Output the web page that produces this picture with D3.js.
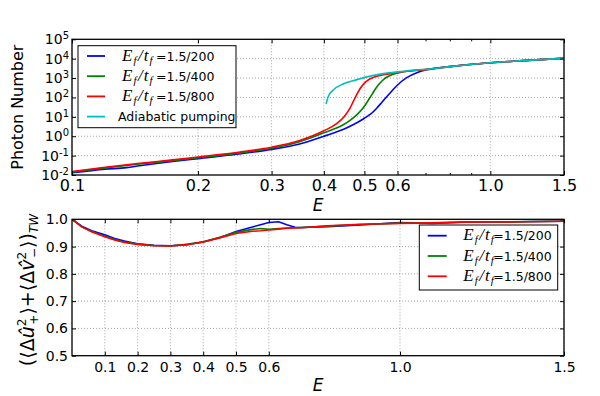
<!DOCTYPE html>
<html>
<head>
<meta charset="utf-8">
<script src="https://cdn.jsdelivr.net/npm/d3@7"></script>
<style>
  body { margin: 0; background: #fff; }
  text { font-family: "DejaVu Sans", sans-serif; }
</style>
</head>
<body>
<div id="chart"></div>
<script>
const width = 600;
const height = 396;

// ---- top panel: photon number (log-log) ----
const topTicksX = [0.1, 0.2, 0.3, 0.4, 0.5, 0.6, 1.0, 1.5];
const topMinorX = [0.7, 0.8, 0.9];
const topExpY = [-2, -1, 0, 1, 2, 3, 4, 5];

const eBlueTop = [0.1, 0.12, 0.135, 0.145, 0.174, 0.2, 0.25, 0.3, 0.35, 0.4, 0.422, 0.446, 0.471, 0.5, 0.521, 0.535, 0.55, 0.566, 0.583, 0.6, 0.631, 0.667, 0.705, 0.8, 1.0, 1.2, 1.5];
const nBlueTop = [0.013, 0.02, 0.024, 0.03, 0.05, 0.07, 0.12, 0.21, 0.4, 1.0, 1.48, 2.3, 4.0, 8.5, 15.8, 28, 55, 112, 230, 440, 1050, 1900, 2700, 3900, 6200, 7900, 10500];

const eGreenTop = [0.1, 0.12, 0.145, 0.174, 0.2, 0.25, 0.3, 0.35, 0.4, 0.446, 0.462, 0.48, 0.5, 0.51, 0.521, 0.532, 0.545, 0.557, 0.571, 0.6, 0.655, 0.705, 0.8, 1.0, 1.2, 1.5];
const nGreenTop = [0.014, 0.023, 0.037, 0.055, 0.078, 0.135, 0.24, 0.52, 1.5, 4, 6.6, 13, 35, 68, 140, 290, 560, 890, 1230, 1800, 2450, 2750, 3900, 6200, 7900, 10500];

const eRedTop = [0.1, 0.12, 0.145, 0.174, 0.2, 0.25, 0.3, 0.35, 0.4, 0.43, 0.446, 0.462, 0.471, 0.48, 0.488, 0.5, 0.515, 0.53, 0.555, 0.6, 0.705, 0.8, 1.0, 1.2, 1.5];
const nRedTop = [0.015, 0.025, 0.04, 0.06, 0.085, 0.15, 0.27, 0.6, 1.9, 4.6, 9.5, 28, 66, 148, 280, 550, 890, 1170, 1480, 1950, 2800, 3900, 6200, 7900, 10500];

const eCyanTop = [0.405, 0.41, 0.422, 0.446, 0.48, 0.507, 0.555, 0.608, 0.667, 0.705, 0.8, 1.0, 1.2, 1.5];
const nCyanTop = [45, 115, 250, 510, 830, 1150, 1700, 2150, 2650, 2850, 3900, 6200, 7900, 10500];

// ---- bottom panel: variance sum ----
const botTicksX = [0.1, 0.2, 0.3, 0.4, 0.5, 0.6, 1.0, 1.5];
const botTicksY = [0.5, 0.6, 0.7, 0.8, 0.9, 1.0];

const eBot = [0, 0.03, 0.06, 0.1, 0.13, 0.16, 0.2, 0.25, 0.3, 0.35, 0.4, 0.45, 0.5, 0.55, 0.575, 0.6, 0.63, 0.655, 0.68, 0.7, 0.78, 0.88, 1.0, 1.1, 1.2, 1.3, 1.4, 1.5];
const vBlueBot = [1.0, 0.975, 0.958, 0.943, 0.93, 0.92, 0.91, 0.905, 0.903, 0.907, 0.917, 0.932, 0.955, 0.972, 0.98, 0.988, 0.991, 0.98, 0.971, 0.97, 0.973, 0.979, 0.988, 0.985, 0.99, 0.989, 0.992, 0.993];
const vGreenBot = [1.0, 0.972, 0.955, 0.938, 0.926, 0.917, 0.909, 0.904, 0.902, 0.908, 0.918, 0.934, 0.952, 0.963, 0.966, 0.963, 0.966, 0.968, 0.969, 0.97, 0.975, 0.981, 0.986, 0.987, 0.99, 0.99, 0.992, 0.993];
const vRedBot = [1.0, 0.972, 0.954, 0.936, 0.924, 0.915, 0.908, 0.903, 0.902, 0.907, 0.917, 0.932, 0.948, 0.956, 0.958, 0.961, 0.964, 0.967, 0.968, 0.969, 0.976, 0.982, 0.985, 0.987, 0.989, 0.99, 0.991, 0.993];

const rateLabels = ["=1.5/200", "=1.5/400", "=1.5/800"];
const colors = ["#0000ff", "#008000", "#ff0000", "#00bfbf"];

const svg = d3.select("#chart")
  .append("svg")
  .attr("width", width)
  .attr("height", height);

const left = 72, right = 564;
const topY0 = 39.3, topY1 = 175;
const botY0 = 219.3, botY1 = 355.7;

const xTop = d3.scaleLog().domain([0.1, 1.5]).range([left, right]);
const yTop = d3.scaleLog().domain([1e-2, 1e5]).range([topY1, topY0]);
const xBot = d3.scaleLinear().domain([0, 1.5]).range([left, right]);
const yBot = d3.scaleLinear().domain([0.5, 1.0]).range([botY1, botY0]);

const defs = svg.append("defs");
defs.append("clipPath").attr("id", "clipTop")
  .append("rect").attr("x", left).attr("y", topY0).attr("width", right - left).attr("height", topY1 - topY0);
defs.append("clipPath").attr("id", "clipBot")
  .append("rect").attr("x", left).attr("y", botY0).attr("width", right - left).attr("height", botY1 - botY0);

function grid(xs, ys, xScale, yScale, y0, y1) {
  const g = svg.append("g")
    .attr("stroke", "#000")
    .attr("stroke-opacity", 0.45)
    .attr("stroke-width", 0.8)
    .attr("stroke-dasharray", "1,2");
  g.selectAll(".gx").data(xs).enter().append("line")
    .attr("x1", d => xScale(d)).attr("x2", d => xScale(d))
    .attr("y1", y0).attr("y2", y1);
  g.selectAll(".gy").data(ys).enter().append("line")
    .attr("x1", left).attr("x2", right)
    .attr("y1", d => yScale(d)).attr("y2", d => yScale(d));
}

grid(topTicksX, topExpY.slice(1, -1).map(e => Math.pow(10, e)), xTop, yTop, topY0, topY1);
grid(botTicksX, botTicksY.slice(1, -1), xBot, yBot, botY0, botY1);

// curves
function drawCurve(xs, ys, xScale, yScale, color, clip) {
  const line = d3.line()
    .x(d => xScale(d[0]))
    .y(d => yScale(d[1]))
    .curve(d3.curveMonotoneX);
  svg.append("path")
    .datum(xs.map((x, i) => [x, ys[i]]))
    .attr("d", line)
    .attr("fill", "none")
    .attr("stroke", color)
    .attr("stroke-width", 1.6)
    .attr("clip-path", clip);
}

drawCurve(eBlueTop, nBlueTop, xTop, yTop, colors[0], "url(#clipTop)");
drawCurve(eGreenTop, nGreenTop, xTop, yTop, colors[1], "url(#clipTop)");
drawCurve(eRedTop, nRedTop, xTop, yTop, colors[2], "url(#clipTop)");
drawCurve(eCyanTop, nCyanTop, xTop, yTop, colors[3], "url(#clipTop)");

function drawNoisy(xs, ys, color) {
  const line = d3.line().x(d => xBot(d[0])).y(d => yBot(d[1]));
  svg.append("path")
    .datum(xs.map((x, i) => [x, ys[i]]))
    .attr("d", line)
    .attr("fill", "none")
    .attr("stroke", color)
    .attr("stroke-width", 1.6)
    .attr("clip-path", "url(#clipBot)");
}
drawNoisy(eBot, vBlueBot, colors[0]);
drawNoisy(eBot, vGreenBot, colors[1]);
drawNoisy(eBot, vRedBot, colors[2]);

// axes (inward ticks on all sides)
function styleAxis(g, fontSize) {
  g.select(".domain").remove();
  g.selectAll(".tick line").attr("stroke", "#000").attr("stroke-width", 1);
  g.selectAll(".tick text").attr("fill", "#000").attr("font-size", fontSize + "px")
    .attr("font-family", "DejaVu Sans");
}

// top panel
const gxTop = svg.append("g").attr("transform", `translate(0,${topY1})`)
  .call(d3.axisBottom(xTop).tickValues(topTicksX).tickFormat(d3.format(".1f")).tickSize(-4).tickPadding(5));
styleAxis(gxTop, 16);
const gxTop2 = svg.append("g").attr("transform", `translate(0,${topY0})`)
  .call(d3.axisTop(xTop).tickValues(topTicksX).tickFormat("").tickSize(-4));
styleAxis(gxTop2, 10);
svg.append("g").attr("transform", `translate(0,${topY1})`)
  .call(d3.axisBottom(xTop).tickValues(topMinorX).tickFormat("").tickSize(-2))
  .call(g => styleAxis(g, 10));
svg.append("g").attr("transform", `translate(0,${topY0})`)
  .call(d3.axisTop(xTop).tickValues(topMinorX).tickFormat("").tickSize(-2))
  .call(g => styleAxis(g, 10));

const gyTop = svg.append("g").attr("transform", `translate(${left},0)`)
  .call(d3.axisLeft(yTop).tickValues(topExpY.map(e => Math.pow(10, e))).tickFormat("").tickSize(-4).tickPadding(3));
styleAxis(gyTop, 14);
gyTop.selectAll(".tick text").each(function(d) {
  const t = d3.select(this);
  t.append("tspan").text("10");
  t.append("tspan").attr("dy", "-0.5em").attr("font-size", "10px").text(Math.round(Math.log10(d)));
});
const gyTop2 = svg.append("g").attr("transform", `translate(${right},0)`)
  .call(d3.axisRight(yTop).tickValues(topExpY.map(e => Math.pow(10, e))).tickFormat("").tickSize(-4));
styleAxis(gyTop2, 10);

// bottom panel
const gxBot = svg.append("g").attr("transform", `translate(0,${botY1})`)
  .call(d3.axisBottom(xBot).tickValues(botTicksX).tickFormat(d3.format(".1f")).tickSize(-4).tickPadding(6));
styleAxis(gxBot, 14);
const gxBot2 = svg.append("g").attr("transform", `translate(0,${botY0})`)
  .call(d3.axisTop(xBot).tickValues(botTicksX).tickFormat("").tickSize(-4));
styleAxis(gxBot2, 10);
const gyBot = svg.append("g").attr("transform", `translate(${left},0)`)
  .call(d3.axisLeft(yBot).tickValues(botTicksY).tickFormat(d3.format(".1f")).tickSize(-4).tickPadding(4));
styleAxis(gyBot, 14);
const gyBot2 = svg.append("g").attr("transform", `translate(${right},0)`)
  .call(d3.axisRight(yBot).tickValues(botTicksY).tickFormat("").tickSize(-4));
styleAxis(gyBot2, 10);

// frames
[[topY0, topY1], [botY0, botY1]].forEach(([y0, y1]) => {
  svg.append("rect")
    .attr("x", left).attr("y", y0)
    .attr("width", right - left).attr("height", y1 - y0)
    .attr("fill", "none").attr("stroke", "#000").attr("stroke-width", 1.3);
});

// axis labels
svg.append("text")
  .attr("transform", `translate(23,${(topY0 + topY1) / 2}) rotate(-90)`)
  .attr("text-anchor", "middle")
  .attr("font-size", "16px")
  .text("Photon Number");

[211, 391].forEach(y => {
  svg.append("text")
    .attr("x", (left + right) / 2).attr("y", y)
    .attr("text-anchor", "middle")
    .attr("font-family", "Liberation Serif")
    .attr("font-style", "italic")
    .attr("font-size", "17px")
    .text("E");
});

const yl = svg.append("text")
  .attr("transform", `translate(34,290) rotate(-90)`)
  .attr("text-anchor", "middle")
  .attr("font-family", "Liberation Serif")
  .attr("font-size", "19px");
yl.append("tspan").text("(⟨Δ");
yl.append("tspan").attr("font-style", "italic").text("û");
yl.append("tspan").attr("dy", -8).attr("font-size", "12px").text("2");
yl.append("tspan").attr("dx", -6).attr("dy", 12).attr("font-size", "12px").text("+");
yl.append("tspan").attr("dy", -4).text("⟩+⟨Δ");
yl.append("tspan").attr("font-style", "italic").text("v̂");
yl.append("tspan").attr("dy", -8).attr("font-size", "12px").text("2");
yl.append("tspan").attr("dx", -6).attr("dy", 12).attr("font-size", "12px").text("−");
yl.append("tspan").attr("dy", -4).text("⟩)");
yl.append("tspan").attr("dy", 4).attr("font-size", "12px").attr("font-style", "italic").text("TW");

// legends
function mathLabel(x, y, mathW, rest) {
  const t = svg.append("text").attr("x", x).attr("y", y);
  const serif = () => t.append("tspan").attr("font-family", "Liberation Serif").attr("font-style", "italic");
  serif().attr("font-size", "17px").text("E");
  serif().attr("font-size", "11px").attr("dy", 3).attr("dx", 1).text("f");
  serif().attr("font-size", "17px").attr("dy", -3).attr("dx", 1.5).text("/");
  serif().attr("font-size", "17px").attr("dx", 1).text("t");
  serif().attr("font-size", "11px").attr("dy", 3).attr("dx", 1).text("f");
  t.append("tspan").attr("x", x + mathW).attr("dy", -3).attr("font-size", "12.5px").text(rest);
}

function legend(bx, by, bw, bh, rowY0, rowStep, lineX0, lineX1, textX, mathW, labels, extra) {
  svg.append("rect").attr("x", bx).attr("y", by).attr("width", bw).attr("height", bh)
    .attr("fill", "#fff").attr("stroke", "#000").attr("stroke-width", 1);
  labels.forEach((lab, i) => {
    const y = rowY0 + i * rowStep;
    svg.append("line").attr("x1", lineX0).attr("x2", lineX1).attr("y1", y).attr("y2", y)
      .attr("stroke", colors[i]).attr("stroke-width", 1.8);
    mathLabel(textX, y + 4.5, mathW, lab);
  });
  if (extra) {
    const y = rowY0 + labels.length * rowStep;
    svg.append("line").attr("x1", lineX0).attr("x2", lineX1).attr("y1", y).attr("y2", y)
      .attr("stroke", colors[3]).attr("stroke-width", 1.8);
    svg.append("text").attr("x", extra.x).attr("y", y + 4.5).attr("font-size", "12.5px").text(extra.text);
  }
}

legend(78, 45.7, 158, 82, 56, 20.2, 87, 105, 122, 34, rateLabels, { x: 118, text: "Adiabatic pumping" });
legend(419.3, 225, 138.4, 65, 235.7, 20.3, 427.7, 446.7, 463.3, 30, rateLabels, null);
</script>
</body>
</html>
